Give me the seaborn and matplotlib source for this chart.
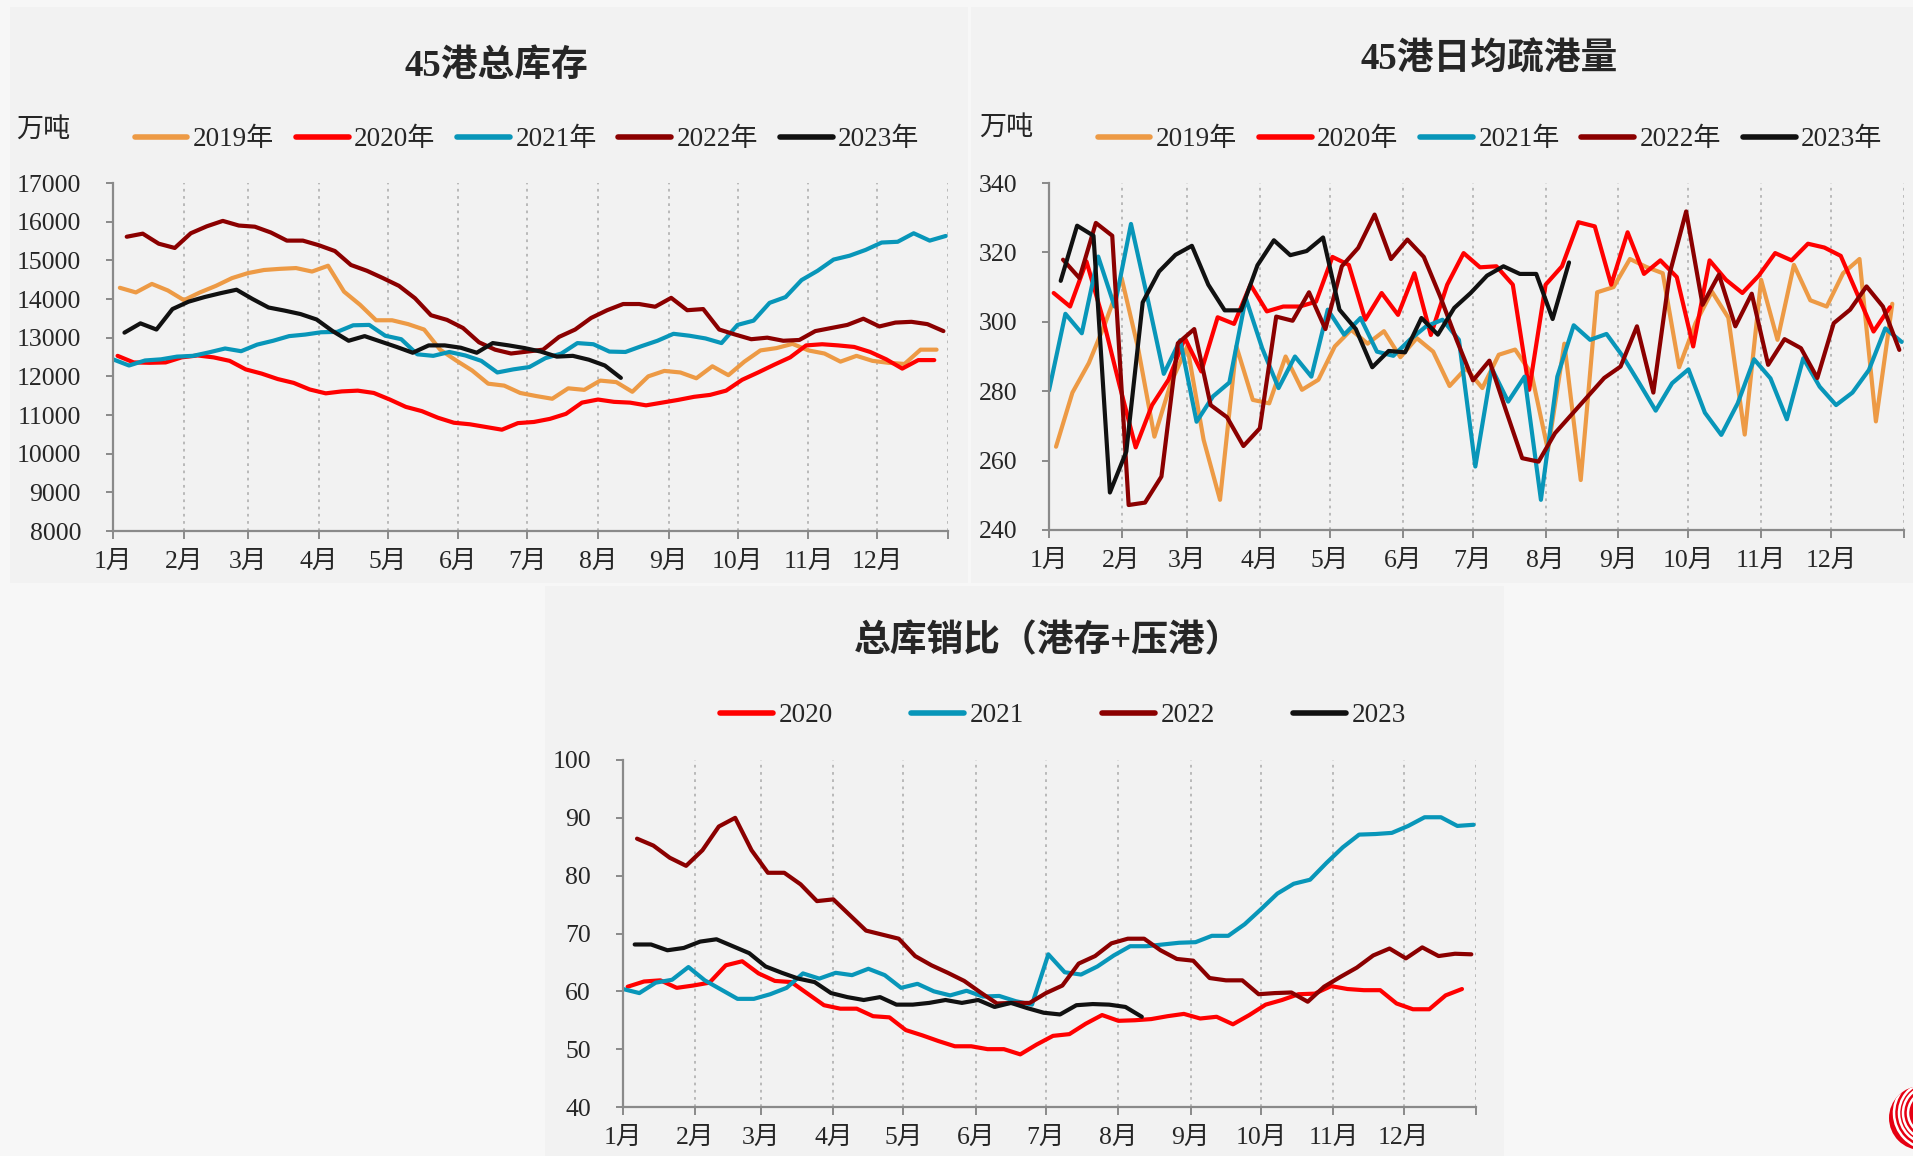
import numpy as np
import pandas as pd
import seaborn as sns
import matplotlib.pyplot as plt
from matplotlib.patches import Rectangle, Circle, Arc

# ---------------- data ----------------
# first weekly date of each year (Fridays)
week_start = {"2019": "2019-01-04", "2020": "2020-01-03", "2021": "2021-01-01",
              "2022": "2022-01-07", "2023": "2023-01-06"}

# 45港总库存 (万吨)
stock_2019 = [14290, 14170, 14390, 14220, 13970, 14170, 14340, 14540, 14670, 14750,
              14780, 14800, 14710, 14860, 14190, 13850, 13450, 13450, 13350, 13210,
              12690, 12410, 12150, 11810, 11760, 11570, 11490, 11420, 11690, 11650,
              11890, 11850, 11600, 12000, 12140, 12100, 11950, 12260, 12030, 12380,
              12670, 12730, 12840, 12670, 12590, 12380, 12530, 12400, 12350, 12320,
              12690, 12690]
stock_2020 = [12530, 12360, 12350, 12360, 12490, 12540, 12490, 12400, 12180, 12070,
              11930, 11830, 11660, 11560, 11610, 11630, 11570, 11400, 11210, 11100,
              10930, 10800, 10760, 10690, 10620, 10790, 10820, 10900, 11030, 11320,
              11400, 11340, 11320, 11250, 11320, 11390, 11470, 11520, 11630, 11910,
              12100, 12300, 12490, 12800, 12830, 12800, 12760, 12630, 12440, 12200,
              12420, 12420]
stock_2021 = [12440, 12280, 12410, 12440, 12510, 12530, 12620, 12720, 12650, 12820,
              12920, 13040, 13080, 13140, 13150, 13320, 13330, 13050, 12960, 12570,
              12530, 12630, 12540, 12400, 12100, 12180, 12240, 12470, 12590, 12860,
              12830, 12640, 12630, 12780, 12920, 13100, 13050, 12980, 12860, 13330,
              13440, 13900, 14050, 14490, 14730, 15020, 15120, 15270, 15460, 15480,
              15700, 15510, 15630]
stock_2022 = [15610, 15690, 15430, 15320, 15700, 15880, 16020, 15900, 15870, 15720,
              15510, 15510, 15390, 15240, 14880, 14730, 14540, 14340, 14020, 13580,
              13460, 13250, 12880, 12690, 12590, 12640, 12690, 13020, 13210, 13510,
              13710, 13870, 13870, 13800, 14030, 13710, 13740, 13210, 13080, 12960,
              13000, 12920, 12940, 13170, 13250, 13330, 13490, 13290, 13390, 13410,
              13350, 13170]
stock_2023 = [13130, 13370, 13210, 13740, 13930, 14050, 14150, 14240, 14000, 13780,
              13700, 13610, 13470, 13170, 12920, 13040, 12900, 12760, 12610, 12800,
              12800, 12740, 12610, 12860, 12800, 12730, 12640, 12510, 12530, 12430,
              12280, 11960]

# 45港日均疏港量 (万吨)
disp_2019 = [264.0, 279.6, 288.1, 299.6, 312.6, 292.5, 266.9, 282.3, 292.9, 266.0,
             248.7, 292.9, 277.5, 276.5, 290.0, 280.4, 283.3, 292.9, 297.7, 293.7,
             297.3, 289.8, 295.3, 291.4, 281.5, 286.6, 280.9, 290.5, 292.0, 285.0,
             263.0, 293.7, 254.4, 308.5, 310.0, 318.1, 315.8, 314.0, 286.9, 299.6,
             308.7, 301.2, 267.5, 312.1, 294.8, 316.4, 306.2, 304.4, 314.0, 318.1,
             271.3, 305.2]
disp_2020 = [308.3, 304.4, 317.4, 301.0, 282.0, 263.8, 276.0, 283.3, 295.3, 285.7,
             301.3, 299.4, 310.7, 303.0, 304.4, 304.4, 305.8, 318.7, 316.4, 300.6,
             308.3, 302.0, 314.0, 296.2, 310.7, 319.8, 315.7, 316.0, 310.7, 280.4,
             310.7, 316.0, 328.7, 327.5, 310.7, 325.8, 313.8, 317.7, 312.9, 292.9,
             317.7, 312.1, 308.3, 313.3, 319.8, 317.7, 322.5, 321.4, 319.0, 308.1,
             297.2, 304.2]
disp_2021 = [280.2, 302.3, 296.7, 318.8, 304.4, 328.2, 307.0, 285.0, 294.7, 271.2,
             278.5, 282.5, 306.8, 292.4, 280.9, 290.0, 284.2, 303.5, 296.3, 301.1,
             291.4, 290.2, 294.8, 298.7, 300.6, 294.8, 258.3, 286.6, 277.0, 284.2,
             248.7, 284.2, 299.0, 294.8, 296.5, 290.0, 282.3, 274.4, 282.3, 286.3,
             273.8, 267.4, 276.5, 289.2, 283.7, 271.9, 289.5, 281.3, 276.0, 279.6,
             286.1, 298.1, 294.2]
disp_2022 = [317.9, 312.6, 328.5, 324.8, 247.2, 247.9, 255.4, 293.8, 297.9, 276.0,
             272.5, 264.2, 269.3, 301.5, 300.3, 308.5, 297.9, 316.0, 321.3, 330.9,
             318.1, 323.7, 318.7, 307.3, 294.8, 283.1, 288.8, 274.6, 260.7, 259.7,
             267.9, 273.2, 278.5, 283.8, 287.1, 298.7, 279.6, 314.0, 331.8, 304.9,
             313.6, 298.7, 308.1, 287.6, 295.0, 292.4, 283.8, 299.6, 303.5, 310.2,
             304.4, 291.9]
disp_2023 = [311.8, 327.7, 324.8, 250.8, 262.6, 305.6, 314.5, 319.3, 321.9, 310.7,
             303.3, 303.3, 316.3, 323.5, 319.2, 320.4, 324.3, 303.5, 297.9, 286.9,
             291.6, 291.2, 301.1, 296.3, 304.0, 308.3, 313.3, 316.0, 313.8, 313.8,
             300.8, 317.1]

# 总库销比（港存+压港）
ratio_2020 = [60.8, 61.7, 61.9, 60.6, 61.0, 61.5, 64.5, 65.2, 63.1, 61.8,
              61.6, 59.6, 57.6, 57.0, 57.0, 55.7, 55.5, 53.3, 52.4, 51.4,
              50.5, 50.5, 50.0, 50.0, 49.1, 50.8, 52.3, 52.6, 54.4, 55.9,
              54.9, 55.0, 55.2, 55.7, 56.1, 55.3, 55.6, 54.3, 55.9, 57.7,
              58.5, 59.5, 59.6, 60.9, 60.4, 60.2, 60.2, 57.9, 56.9, 56.9,
              59.3, 60.4]
ratio_2021 = [60.4, 59.7, 61.5, 62.0, 64.2, 61.9, 60.3, 58.7, 58.7, 59.5,
              60.6, 63.1, 62.2, 63.2, 62.8, 63.9, 62.8, 60.6, 61.3, 60.0,
              59.3, 60.1, 59.1, 59.2, 58.3, 57.7, 66.4, 63.3, 62.9, 64.3,
              66.2, 67.8, 67.8, 68.1, 68.4, 68.5, 69.6, 69.6, 71.6, 74.2,
              76.9, 78.6, 79.3, 82.2, 84.9, 87.1, 87.2, 87.4, 88.6, 90.1,
              90.1, 88.6, 88.8]
ratio_2022 = [86.4, 85.2, 83.1, 81.7, 84.4, 88.5, 90.0, 84.4, 80.5, 80.5,
              78.5, 75.6, 75.9, 73.2, 70.5, 69.8, 69.1, 66.1, 64.5, 63.2,
              61.8, 59.8, 57.9, 58.0, 58.0, 59.7, 61.0, 64.8, 66.1, 68.3,
              69.1, 69.1, 67.1, 65.6, 65.3, 62.3, 61.9, 61.9, 59.5, 59.7,
              59.8, 58.2, 60.8, 62.5, 64.1, 66.2, 67.4, 65.7, 67.6, 66.1,
              66.5, 66.4]
ratio_2023 = [68.1, 68.1, 67.1, 67.5, 68.6, 69.0, 67.8, 66.6, 64.3, 63.2,
              62.2, 61.6, 59.7, 59.0, 58.5, 59.0, 57.7, 57.7, 58.0, 58.5,
              58.0, 58.5, 57.3, 58.0, 57.1, 56.3, 56.0, 57.6, 57.8, 57.7,
              57.3, 55.6]

month_labels = ["1月", "2月", "3月", "4月", "5月", "6月", "7月", "8月", "9月", "10月", "11月", "12月"]

colors = {"2019": "#ED9A45", "2020": "#FF0000", "2021": "#0896B9",
          "2022": "#8B0000", "2023": "#111111"}


def to_frame(series, suffix):
    rows = []
    for year, vals in series.items():
        dates = pd.date_range(week_start[year], periods=len(vals), freq="7D")
        rows.append(pd.DataFrame({"day": dates.dayofyear - 1, "val": vals,
                                  "year": year + suffix}))
    return pd.concat(rows, ignore_index=True)


# ---------------- figure ----------------
sns.set_style("white")
plt.rcParams["font.family"] = ["Liberation Serif", "Noto Sans CJK SC"]
plt.rcParams["axes.unicode_minus"] = False

W, H = 1913, 1156
fig = plt.figure(figsize=(W / 100, H / 100), dpi=100, facecolor="#f7f7f7")


def box(x0, y0, x1, y1):  # pixel box (from top-left) -> figure fraction rect
    return [x0 / W, 1 - y1 / H, (x1 - x0) / W, (y1 - y0) / H]


for r in [box(10, 7, 968, 583), box(971, 7, 1913, 583), box(545, 586, 1504, 1156)]:
    fig.add_artist(Rectangle((r[0], r[1]), r[2], r[3], transform=fig.transFigure,
                             facecolor="#f2f2f2", edgecolor="none", zorder=-10))

# logo partly visible in the lower right corner (inch coordinates)
cx, cy = 19.21, 0.38
logo = Circle((cx, cy), 0.32, transform=fig.dpi_scale_trans,
              facecolor="#e60012", edgecolor="none", zorder=5)
fig.add_artist(logo)
for rr in [0.36, 0.31, 0.27, 0.22]:
    arc = Arc((cx + 0.09, cy + 0.05), 2 * rr, 2 * rr, theta1=100, theta2=265,
              transform=fig.dpi_scale_trans, color="white", lw=1.8, zorder=6)
    fig.add_artist(arc)
    arc.set_clip_path(logo)

month_starts = [0, 31, 59, 90, 120, 151, 181, 212, 243, 273, 304, 334, 365]


def draw(ax, df, yticks, leg_center, colspace):
    pal = {k: colors[k[:4]] for k in df["year"].unique()}
    sns.lineplot(data=df, x="day", y="val", hue="year", palette=pal, linewidth=3,
                 ax=ax, legend=True, sort=False, estimator=None)
    ax.set_facecolor("#f2f2f2")
    ax.set_xlim(0, 365)
    ax.set_ylim(yticks[0], yticks[-1])
    ax.set_xticks(month_starts)
    ax.set_xticklabels(month_labels + [""])
    ax.set_yticks(yticks)
    ax.set_xlabel("")
    ax.set_ylabel("")
    ax.grid(axis="x", linestyle=(0, (1.5, 2.5)), color="#b5b5b5", linewidth=1.3)
    ax.grid(axis="y", visible=False)
    for s in ["top", "right"]:
        ax.spines[s].set_visible(False)
    for s in ["left", "bottom"]:
        ax.spines[s].set_color("#8a8a8a")
        ax.spines[s].set_linewidth(1.6)
    ax.tick_params(axis="y", direction="out", length=5, width=1.4, color="#8a8a8a",
                   pad=18, labelsize=18.5, left=True)
    ax.tick_params(axis="x", direction="out", length=6, width=1.4, color="#8a8a8a",
                   pad=8, labelsize=18.5, bottom=True)
    sns.move_legend(ax, "center", bbox_to_anchor=(leg_center[0] / W, 1 - leg_center[1] / H),
                    bbox_transform=fig.transFigure, ncol=len(pal), frameon=False,
                    title=None, fontsize=19.5, handlelength=1.95, handletextpad=0.2,
                    columnspacing=colspace)
    for line in ax.get_legend().get_lines():
        line.set_linewidth(4)


stock = to_frame({"2019": stock_2019, "2020": stock_2020, "2021": stock_2021,
                  "2022": stock_2022, "2023": stock_2023}, "年")
disp = to_frame({"2019": disp_2019, "2020": disp_2020, "2021": disp_2021,
                 "2022": disp_2022, "2023": disp_2023}, "年")
ratio = to_frame({"2020": ratio_2020, "2021": ratio_2021, "2022": ratio_2022,
                  "2023": ratio_2023}, "")

ax1 = fig.add_axes(box(113, 183, 948, 531))
draw(ax1, stock, np.arange(8000, 17001, 1000), (527, 140), 0.8)

ax2 = fig.add_axes(box(1049, 183, 1904, 530))
draw(ax2, disp, np.arange(240, 341, 20), (1490, 140), 0.8)

ax3 = fig.add_axes(box(623, 760, 1476, 1107))
draw(ax3, ratio, np.arange(40, 101, 10), (1063, 716), 2.9)

title_font = dict(fontsize=26.5, fontweight="bold", ha="center", va="center",
                  family=["Liberation Serif", "Noto Sans CJK SC"])
fig.text(496 / W, 1 - 66 / H, "45港总库存", **title_font)
fig.text(1489 / W, 1 - 60 / H, "45港日均疏港量", **title_font)
fig.text(1048 / W, 1 - 642 / H, "总库销比（港存+压港）", **title_font)

fig.text(43 / W, 1 - 130 / H, "万吨", fontsize=19.5, ha="center", va="center")
fig.text(1006 / W, 1 - 128 / H, "万吨", fontsize=19.5, ha="center", va="center")

fig.savefig("out.png", dpi=100, facecolor=fig.get_facecolor())
